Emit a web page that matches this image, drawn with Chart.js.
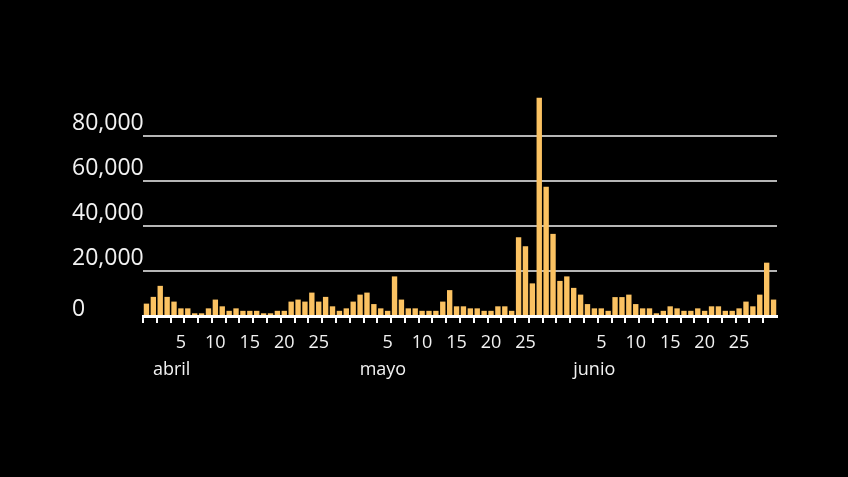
<!DOCTYPE html>
<html>
<head>
<meta charset="utf-8">
<script src="https://cdn.jsdelivr.net/npm/chart.js@4/dist/chart.umd.min.js"></script>
<style>
  html, body { margin: 0; padding: 0; background: #000; }
  #wrap { width: 848px; height: 477px; }
</style>
</head>
<body>
<div id="wrap"><canvas id="bar-chart"></canvas></div>
<script>
// dia del mes de cada barra (31 mar - 30 jun)
const dias = [31,
  1,2,3,4,5,6,7,8,9,10,11,12,13,14,15,16,17,18,19,20,21,22,23,24,25,26,27,28,29,30,
  1,2,3,4,5,6,7,8,9,10,11,12,13,14,15,16,17,18,19,20,21,22,23,24,25,26,27,28,29,30,31,
  1,2,3,4,5,6,7,8,9,10,11,12,13,14,15,16,17,18,19,20,21,22,23,24,25,26,27,28,29,30];

const valores = [5500, 8500, 13400, 8500, 6400, 3400, 3400, 1200, 1200, 3400,
  7300, 4300, 2300, 3400, 2300, 2300, 2300, 1200, 1200, 2300,
  2300, 6400, 7300, 6400, 10400, 6400, 8500, 4300, 2300, 3400,
  6400, 9500, 10400, 5300, 3400, 2300, 17600, 7300, 3400, 3400,
  2300, 2300, 2300, 6400, 11500, 4300, 4300, 3400, 3400, 2300,
  2300, 4300, 4300, 2300, 35000, 31000, 14500, 97000, 57500, 36500,
  15600, 17600, 12500, 9500, 5300, 3400, 3400, 2300, 8400, 8400,
  9500, 5300, 3400, 3400, 1200, 2300, 4300, 3400, 2300, 2300,
  3400, 2300, 4300, 4300, 2300, 2300, 3400, 6400, 4300, 9500,
  23700, 7300];

const diasMarcados = [5, 10, 15, 20, 25];
const meses = ['abril', 'mayo', 'junio'];
const inicioMes = [1, 31, 62]; // indice de la barra del dia 1 de cada mes

const FUENTE = "'Open Sans', sans-serif";
const BLANCO = '#f2f2f2';

// etiquetas de mes bajo los dias, y el "0" del eje y pegado a la base
const extras = {
  id: 'extras',
  afterDraw(chart) {
    const x = chart.scales.x;
    const y = chart.scales.y;
    const c = chart.ctx;
    const medio = (x.getPixelForValue(1) - x.getPixelForValue(0)) / 2;
    c.save();
    c.fillStyle = BLANCO;
    c.font = "18px " + FUENTE;
    c.textAlign = 'left';
    c.textBaseline = 'alphabetic';
    meses.forEach((m, i) => {
      c.fillText(m, x.getPixelForValue(inicioMes[i]) - medio + 3, 375);
    });
    c.font = "23px " + FUENTE;
    c.textBaseline = 'middle';
    c.fillText('0', y.left, y.getPixelForValue(0) - 7);
    c.restore();
  }
};

const ctx = document.getElementById('bar-chart');
new Chart(ctx, {
  type: 'bar',
  data: {
    labels: dias,
    datasets: [{
      data: valores,
      backgroundColor: '#fbc262',
      barPercentage: 0.78,
      categoryPercentage: 1.0
    }]
  },
  options: {
    responsive: true,
    maintainAspectRatio: false,
    animation: false,
    layout: { padding: { left: 72, right: 71, top: 91, bottom: 0 } },
    plugins: { legend: { display: false }, tooltip: { enabled: false } },
    scales: {
      x: {
        afterFit: (s) => { s.height = 161; },
        border: { color: '#ffffff', width: 3 },
        grid: {
          drawOnChartArea: false,
          tickLength: 7,
          lineWidth: 2,
          color: (c) => c.index % 2 === 0 ? '#ffffff' : 'rgba(0,0,0,0)'
        },
        ticks: {
          autoSkip: false,
          maxRotation: 0,
          padding: 9,
          color: BLANCO,
          font: { family: FUENTE, size: 18 },
          callback: (v, i) => diasMarcados.includes(dias[i]) ? String(dias[i]) : ''
        }
      },
      y: {
        min: 0,
        max: 100000,
        afterFit: (s) => { s.width = 71; },
        afterBuildTicks: (s) => { s.ticks = s.ticks.filter(t => t.value <= 80000); },
        border: { display: false },
        grid: {
          drawTicks: false,
          lineWidth: 2,
          color: (c) => c.tick && c.tick.value === 0 ? 'rgba(0,0,0,0)' : '#b5b5b5'
        },
        ticks: {
          stepSize: 20000,
          crossAlign: 'far',
          labelOffset: -13,
          color: BLANCO,
          font: { family: FUENTE, size: 23 },
          callback: (v) => v === 0 ? '' : v.toLocaleString('en-US')
        }
      }
    }
  },
  plugins: [extras]
});
</script>
</body>
</html>
